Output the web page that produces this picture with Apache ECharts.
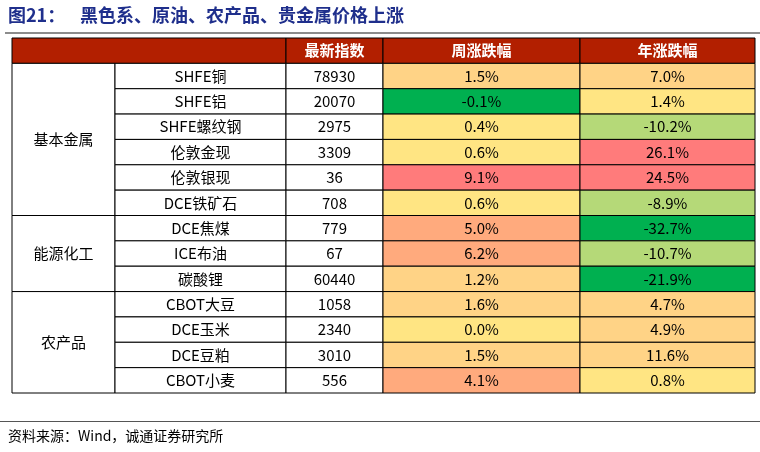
<!DOCTYPE html>
<html>
<head>
<meta charset="utf-8">
<script src="https://cdn.jsdelivr.net/npm/echarts@6/dist/echarts.min.js"></script>
</head>
<body style="margin:0">
<div id="main" style="width:760px;height:452px"></div>
<script>
var headers = ['', '', '最新指数', '周涨跌幅', '年涨跌幅'];
var groups = [['基本金属', 6], ['能源化工', 3], ['农产品', 4]];
var names = ['SHFE铜', 'SHFE铝', 'SHFE螺纹钢', '伦敦金现', '伦敦银现', 'DCE铁矿石', 'DCE焦煤', 'ICE布油', '碳酸锂', 'CBOT大豆', 'DCE玉米', 'DCE豆粕', 'CBOT小麦'];
var latest = [78930, 20070, 2975, 3309, 36, 708, 779, 67, 60440, 1058, 2340, 3010, 556];
var weekChg = [1.5, -0.1, 0.4, 0.6, 9.1, 0.6, 5.0, 6.2, 1.2, 1.6, 0.0, 1.5, 4.1];
var yearChg = [7.0, 1.4, -10.2, 26.1, 24.5, -8.9, -32.7, -10.7, -21.9, 4.7, 4.9, 11.6, 0.8];

// column edges in px from table left
var edges = [0, 103, 274, 371, 568, 743];

function weekColor(v) {
    if (v < 0) return '#00B050';
    if (v < 1) return '#FFE583';
    if (v < 3) return '#FFD386';
    if (v < 8) return '#FFAA7D';
    return '#FF7B7B';
}
function yearColor(v) {
    if (v < -20) return '#00B050';
    if (v < 0) return '#B5D978';
    if (v < 3) return '#FFE583';
    if (v < 15) return '#FFD386';
    return '#FF7B7B';
}

var cells = [];
// header
cells.push([edges[0], edges[2], 0, 1, '', '#B21F00', '#fff', 'bold']);
for (var c = 2; c < 5; c++) cells.push([edges[c], edges[c + 1], 0, 1, headers[c], '#B21F00', '#fff', 'bold']);
var r = 1;
groups.forEach(function (g) {
    cells.push([edges[0], edges[1], r, r + g[1], g[0], '#fff', '#000', 'normal']);
    r += g[1];
});
names.forEach(function (n, i) {
    var row = i + 1;
    cells.push([edges[1], edges[2], row, row + 1, n, '#fff', '#000', 'normal']);
    cells.push([edges[2], edges[3], row, row + 1, String(latest[i]), '#fff', '#000', 'normal']);
    cells.push([edges[3], edges[4], row, row + 1, weekChg[i].toFixed(1) + '%', weekColor(weekChg[i]), '#000', 'normal']);
    cells.push([edges[4], edges[5], row, row + 1, yearChg[i].toFixed(1) + '%', yearColor(yearChg[i]), '#000', 'normal']);
});

var chart = echarts.init(document.getElementById('main'));
chart.setOption({
    animation: false,
    grid: {left: 12, right: 5, top: 38, bottom: 59},
    xAxis: {type: 'value', min: 0, max: 743, show: false},
    yAxis: {type: 'value', min: 0, max: 14, inverse: true, show: false},
    graphic: [
        {type: 'text', left: 8, top: 6, style: {text: '图21：', font: 'bold 18px "Noto Sans CJK SC"', fill: '#1F2F8C'}},
        {type: 'text', left: 80, top: 6, style: {text: '黑色系、原油、农产品、贵金属价格上涨', font: 'bold 18px "Noto Sans CJK SC"', fill: '#1F2F8C'}},
        {type: 'rect', shape: {x: 5, y: 32, width: 755, height: 2}, style: {fill: '#8c8c8c'}},
        {type: 'rect', shape: {x: 0, y: 421, width: 760, height: 1}, style: {fill: '#555'}},
        {type: 'text', left: 8, top: 429, style: {text: '资料来源：Wind，诚通证券研究所', font: '14px "Noto Sans CJK SC"', fill: '#000'}}
    ],
    series: [{
        type: 'custom',
        data: cells,
        renderItem: function (params, api) {
            var p0 = api.coord([api.value(0), api.value(2)]);
            var p1 = api.coord([api.value(1), api.value(3)]);
            var d = cells[params.dataIndex];
            return {
                type: 'rect',
                shape: {x: p0[0], y: p0[1], width: p1[0] - p0[0], height: p1[1] - p0[1]},
                style: {fill: d[5], stroke: '#000', lineWidth: 1},
                textContent: {
                    style: {text: d[4], fill: d[6], font: d[7] + ' 15px "Noto Sans CJK SC"'}
                },
                textConfig: {position: 'inside'}
            };
        }
    }]
});
</script>
</body>
</html>
